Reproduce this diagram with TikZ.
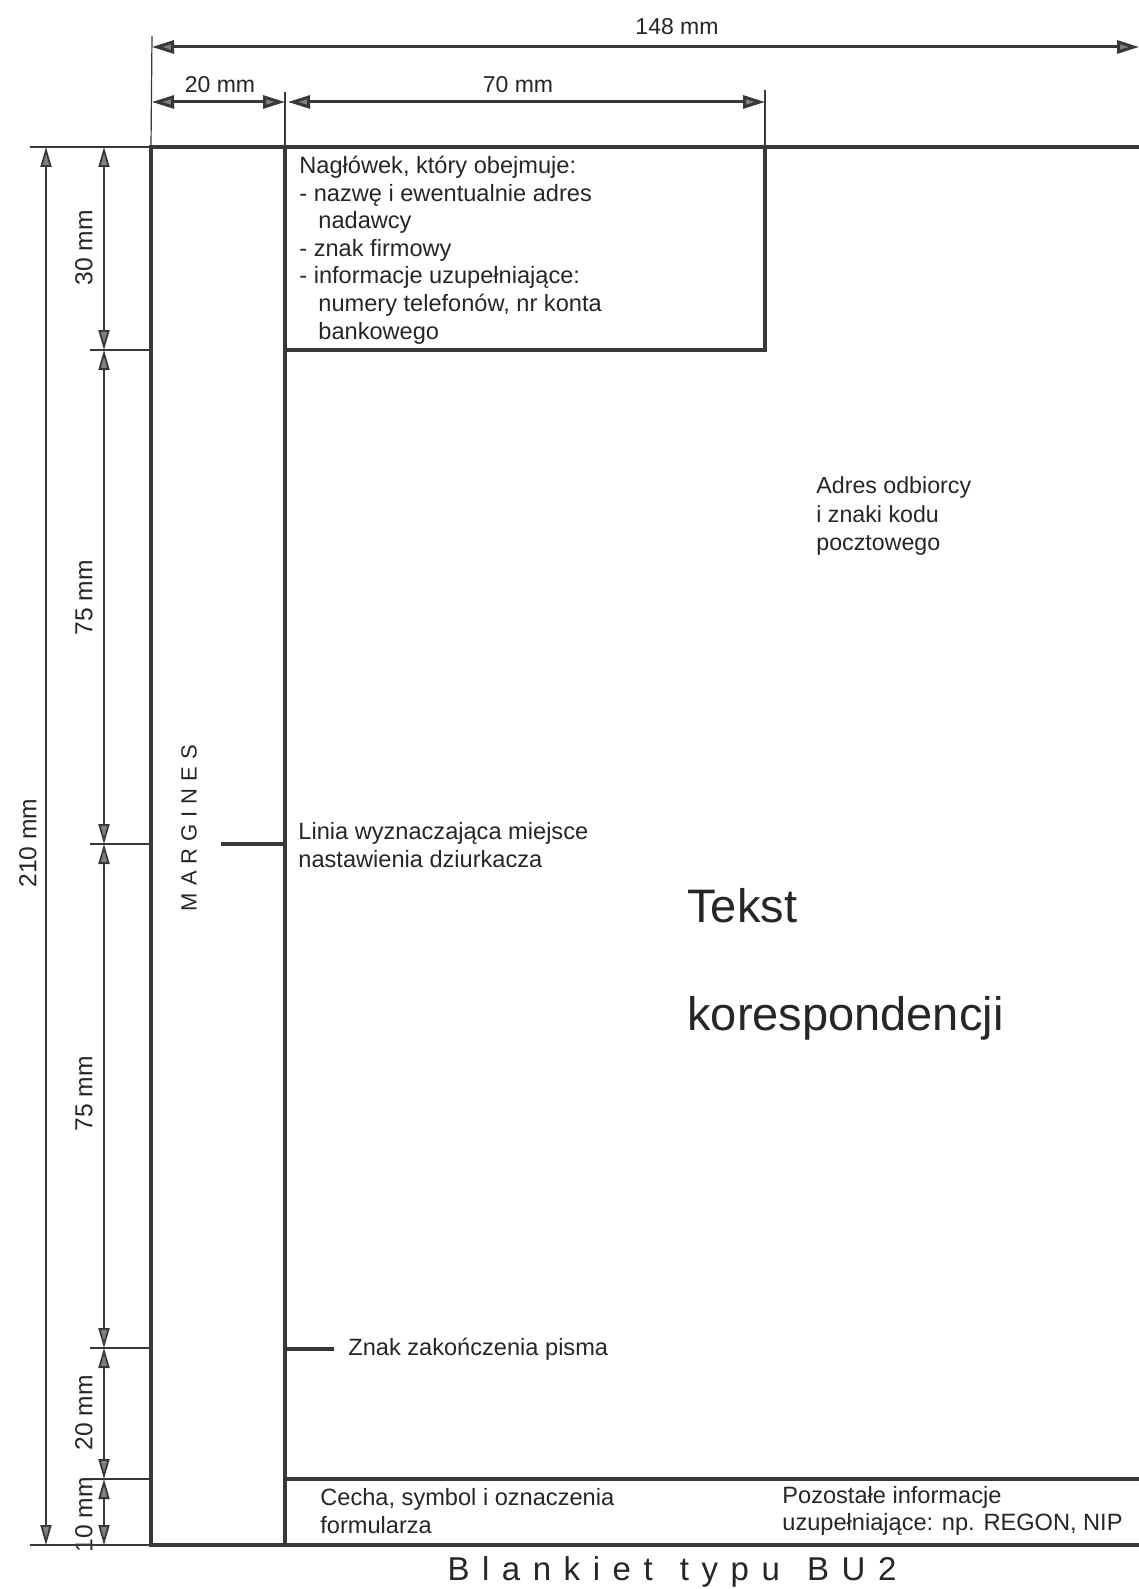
\documentclass[tikz,border=0pt]{standalone}
\usepackage{fontspec}
\setmainfont{Liberation Sans}
\usepackage{tikz}
\usetikzlibrary{positioning,arrows.meta}

\definecolor{ink}{gray}{0.22}
\definecolor{tipfill}{gray}{0.5}

\tikzset{
  frameline/.style={draw=ink, line width=2.2pt},
  thinline/.style={draw=ink, line width=0.6pt},
  dimh/.style={draw=ink, line width=1.5pt,
    {Triangle[length=11pt,width=6.5pt,fill=tipfill]}-{Triangle[length=11pt,width=6.5pt,fill=tipfill]}},
  dimv/.style={draw=ink, line width=0.9pt,
    {Triangle[length=10pt,width=5.5pt,fill=tipfill]}-{Triangle[length=10pt,width=5.5pt,fill=tipfill]}},
  txt/.style={inner sep=0pt, align=left, text=black!85, font=\fontsize{11.8}{13.8}\selectfont},
  dimtxt/.style={inner sep=0pt, text=black!85, font=\fontsize{11.5}{13}\selectfont},
  sidetxt/.style={inner sep=0pt, text=black!85, rotate=90, font=\fontsize{12.3}{14}\selectfont},
}

\begin{document}
\begin{tikzpicture}[x=0.5pt, y=-0.5pt]
\path[fill=white, use as bounding box] (0,0) rectangle (1139,1589);

% Labels of the side dimensions (under the lines)
\node[sidetxt](h210) at (28,843) {210 mm};
\node[sidetxt](s30) at (84,248) {30 mm};
\node[sidetxt](s75a) at (84,598) {75 mm};
\node[sidetxt](s75b) at (84,1094) {75 mm};
\node[sidetxt](s20) at (84,1413) {20 mm};
\node[sidetxt](s10) at (84,1515) {10 mm};

% Coordinates
% sheet and fields
\coordinate (tl) at (151,147);
\coordinate (bl) at (151,1545);
\coordinate (tr) at (1139,147);
\coordinate (br) at (1139,1545);
\coordinate (mt) at (285,147);
\coordinate (mb) at (285,1545);
\coordinate (hl) at (285,350);
\coordinate (hr) at (765,350);
\coordinate (ht) at (765,147);
\coordinate (fl) at (285,1479);
\coordinate (fr) at (1139,1479);
\coordinate (punch) at (221,844);
\coordinate (znak) at (334,1349);

% Dimensions, top
\coordinate (w0) at (152,47);
\coordinate (w1) at (1139,47);
\coordinate (m0) at (152,102);
\coordinate (m1) at (285,102);
\coordinate (m2) at (288,102);
\coordinate (m3) at (765,102);

\draw[thinline] (152,36) -- (tl);
\draw[thinline] (285,92) -- (mt);
\draw[thinline] (765,90) -- (ht);
\draw[dimh] (w0) -- (w1);
\draw[dimh] (m0) -- (m1);
\draw[dimh] (m2) -- (m3);

\node[dimtxt](w148) at (677,27) {148 mm};
\node[dimtxt](w20) at (220,85) {20 mm};
\node[dimtxt](w70) at (518,85) {70 mm};

% Dimensions, left
\coordinate (h0) at (46,147);
\coordinate (h1) at (46,1545);
\coordinate (s0) at (104,147);
\coordinate (s1) at (104,350);
\coordinate (s2) at (104,844);
\coordinate (s3) at (104,1348);
\coordinate (s4) at (104,1479);
\coordinate (s5) at (104,1545);

\draw[thinline] (30,147) -- (tl);
\draw[thinline] (30,1545) -- (bl);
\draw[thinline] (90,350) -- (151,350);
\draw[thinline] (90,844) -- (151,844);
\draw[thinline] (90,1348) -- (151,1348);
\draw[thinline] (90,1479) -- (151,1479);

\draw[dimv] (h0) -- (h1);
\draw[dimv] (s0) -- (s1);
\draw[dimv] (s1) -- (s2);
\draw[dimv] (s2) -- (s3);
\draw[dimv] (s3) -- (s4);
\draw[dimv] (s4) -- (s5);

% Frame
\draw[frameline] (tr) -- (tl) -- (bl) -- (br);
\draw[frameline] (mt) -- (mb);
\draw[frameline] (hl) -- (hr) -- (ht);
\draw[frameline] (fl) -- (fr);
\draw[frameline] (punch) -- (punch -| mt);
\draw[frameline] (znak -| mt) -- (znak);

% Texts
\node[rotate=90, inner sep=0pt, text=black!85,
  font=\fontsize{11}{13}\selectfont\addfontfeature{LetterSpace=32}](margines) at (189,828) {MARGINES};

\node[txt, anchor=west](naglowek) at (299,250) {Nagłówek, który obejmuje:\\
- nazwę i ewentualnie adres\\
\hspace*{9.5pt}nadawcy\\
- znak firmowy\\
- informacje uzupełniające:\\
\hspace*{9.5pt}numery telefonów, nr konta\\
\hspace*{9.5pt}bankowego};

\node[txt, anchor=west, font=\fontsize{11.6}{14.2}\selectfont](adres) at (816,516) {Adres odbiorcy\\i znaki kodu\\pocztowego};

\node[txt, anchor=west](linia) at (298,845) {Linia wyznaczająca miejsce\\nastawienia dziurkacza};
\node[txt, right = 7pt of znak](koniec) {Znak zakończenia pisma};

\node[inner sep=0pt, anchor=base west, text=black!85, font=\fontsize{23.5}{28}\selectfont](tekst) at (687,922) {Tekst};
\node[inner sep=0pt, anchor=base west, text=black!85, font=\fontsize{23.5}{28}\selectfont](koresp) at (687,1030) {korespondencji};

\node[txt, anchor=west](cecha) at (320,1511) {Cecha, symbol i oznaczenia\\formularza};
\node[txt, anchor=west](pozostale) at (782,1511) {Pozostałe informacje\\uzupełniające: np. REGON, NIP};

\node[inner sep=0pt, text=black!85,
  font=\fontsize{16.5}{18}\selectfont\addfontfeature{LetterSpace=38}](blankiet) at (672,1572) {Blankiet\, typu\, BU2};

\end{tikzpicture}
\end{document}
